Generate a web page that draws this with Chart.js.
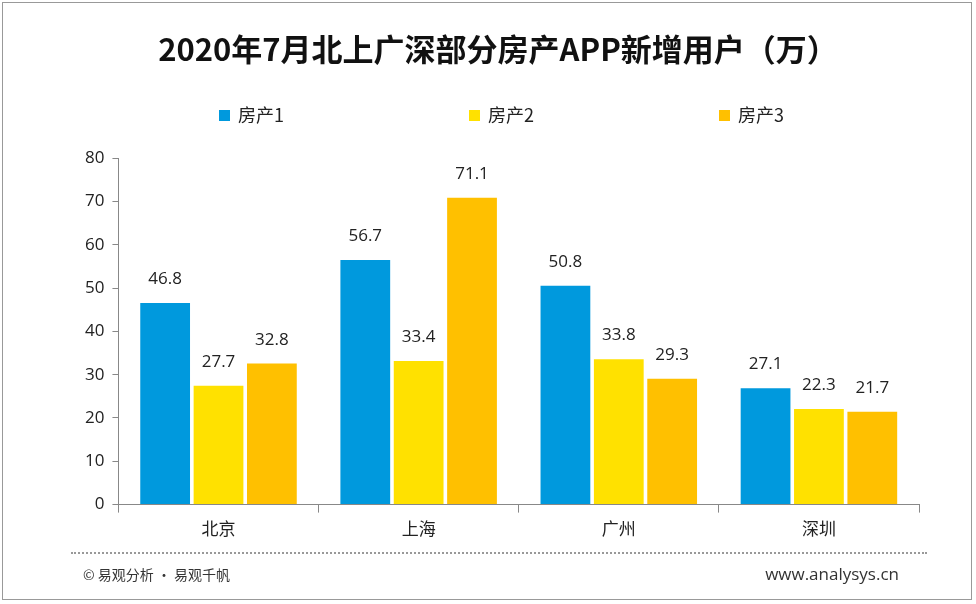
<!DOCTYPE html>
<html><head><meta charset="utf-8">
<script src="https://cdn.jsdelivr.net/npm/chart.js@4.4.1/dist/chart.umd.min.js"></script>
<style>
body{margin:0;background:#fff;font-family:"Noto Sans CJK SC","Noto Sans",sans-serif}
#wrap{position:absolute;left:2px;top:2px;width:970px;height:598px;border:1px solid #999;box-sizing:border-box}
#c{position:absolute;left:0;top:0}
#line{position:absolute;left:68px;top:549px;width:856px;border-top:2px dotted #999}
#l{position:absolute;left:80px;top:561px;font-size:14px;color:#333}
#r{position:absolute;right:72px;top:559px;font-size:17px;color:#333;font-family:"Open Sans",sans-serif}
.lg{position:absolute;top:98px;font-size:18px;color:#222}
.lg i{display:inline-block;width:11px;height:11px;margin-right:8px;vertical-align:1px}
</style></head><body>
<div id="wrap">
<canvas id="c" width="968" height="596"></canvas>
<div id="line"></div>
<div id="l">© 易观分析 · 易观千帆</div>
<div id="r">www.analysys.cn</div>
</div>
<script>
var cities = ['北京', '上海', '广州', '深圳']
var app1 = [46.8, 56.7, 50.8, 27.1]
var app2 = [27.7, 33.4, 33.8, 22.3]
var app3 = [32.8, 71.1, 29.3, 21.7]
var seriesNames = ['房产1', '房产2', '房产3']
var colors = ['#0099DD', '#FFE100', '#FFC000']
var legendX = [216, 466, 716]

// legend as html, spaced like the original
seriesNames.forEach((n, i) => {
    var d = document.createElement('div')
    d.className = 'lg'
    d.style.left = legendX[i] + 'px'
    d.innerHTML = '<i style="background:' + colors[i] + '"></i>' + n
    document.getElementById('wrap').appendChild(d)
})

var labelPlugin = {
    id: 'vals',
    afterDatasetsDraw(chart) {
        var ctx = chart.ctx
        ctx.save()
        ctx.font = '17px "Open Sans", sans-serif'
        ctx.fillStyle = '#222'
        ctx.textAlign = 'center'
        chart.data.datasets.forEach((ds, i) => {
            chart.getDatasetMeta(i).data.forEach((bar, j) => {
                ctx.fillText(ds.data[j].toFixed(1), bar.x, bar.y - 18)
            })
        })
        ctx.restore()
    }
}

new Chart(document.getElementById('c'), {
    type: 'bar',
    data: {
        labels: cities,
        datasets: [app1, app2, app3].map((d, i) => ({
            label: seriesNames[i], data: d, backgroundColor: colors[i],
            borderColor: '#fff', borderWidth: 1
        }))
    },
    options: {
        responsive: false,
        animation: false,
        categoryPercentage: 0.8,
        barPercentage: 0.97,
        layout: { padding: { left: 74, right: 52, top: 14, bottom: 54 } },
        plugins: {
            title: {
                display: true, text: '2020年7月北上广深部分房产APP新增用户（万）',
                color: '#111', font: { size: 31, weight: 'bold', family: '"Noto Sans CJK SC"' },
                padding: { top: 14, bottom: 90 }
            },
            legend: { display: false },
            tooltip: { enabled: false }
        },
        scales: {
            x: {
                grid: { display: true, drawOnChartArea: false, offset: true, color: '#888', tickLength: 8 },
                border: { color: '#888' },
                ticks: { color: '#222', font: { size: 17, family: '"Noto Sans CJK SC"' }, padding: 6 }
            },
            y: {
                min: 0, max: 80,
                grid: { drawOnChartArea: false, color: '#888', tickLength: 6 },
                border: { color: '#888' },
                ticks: { stepSize: 10, color: '#222', font: { size: 17, family: '"Open Sans"' }, padding: 8 }
            }
        }
    },
    plugins: [labelPlugin]
})
</script>
</body></html>
